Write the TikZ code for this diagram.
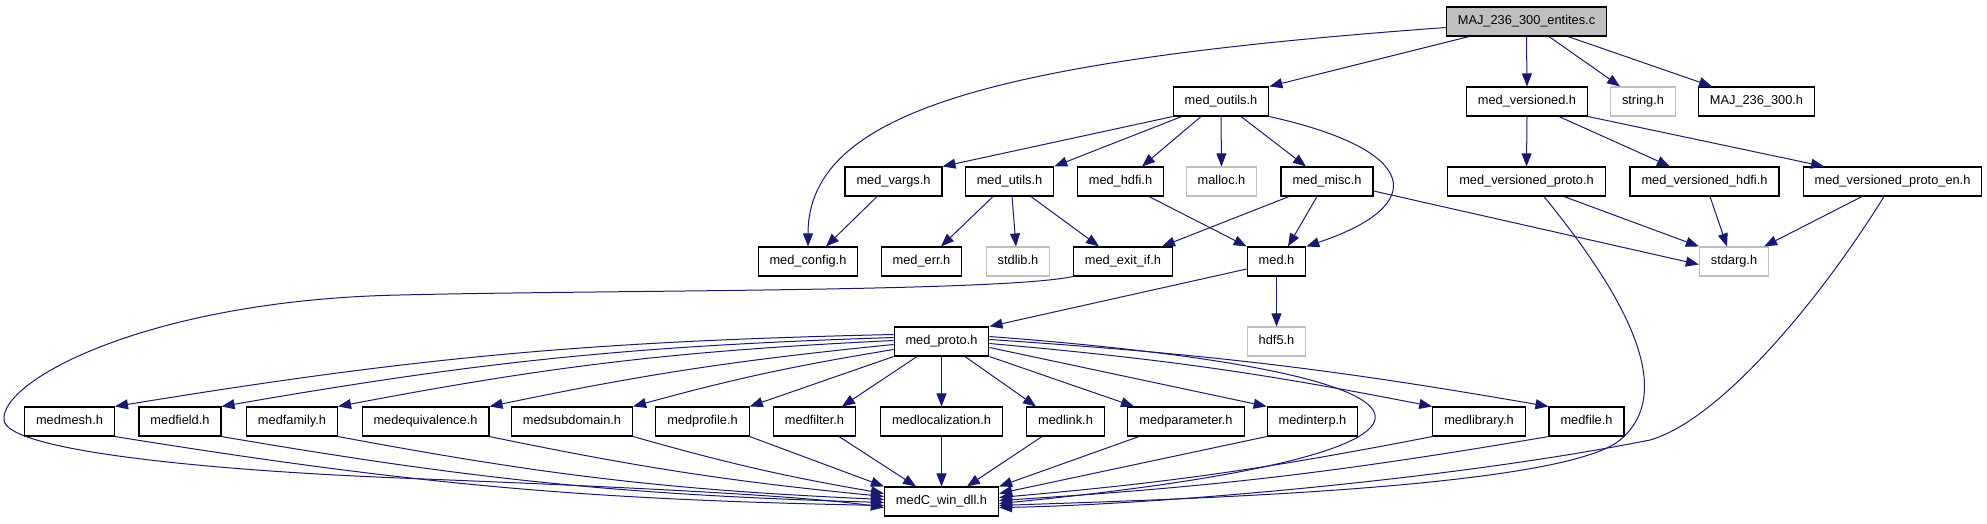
\documentclass[tikz,border=0pt]{standalone}
\usepackage{fontspec}
\setmainfont{Liberation Sans}
\usetikzlibrary{arrows.meta}
\definecolor{edgeblue}{HTML}{191970}
\definecolor{sysgray}{HTML}{BFBFBF}

\begin{document}
\begin{tikzpicture}[
    x=1pt,y=-1pt,
    every node/.style={font=\fontsize{12.8}{15}\selectfont,inner xsep=11.5pt,inner ysep=0pt,
        minimum height=29pt,text height=9.4pt,text depth=2.6pt},
    hbox/.style={draw=black,line width=1.1pt},
    sysbox/.style={draw=sysgray,line width=1.1pt},
    srcbox/.style={draw=black,fill=sysgray,line width=1.1pt},
    arr/.style={-{Triangle[length=13pt,width=10pt]},edgeblue,line width=1pt}
]
\useasboundingbox (0,0) rectangle (1987,523);

% Row 0 and 1: the source file and what it includes
\node[srcbox] (majc) at (1526.5,21.5) {MAJ\_236\_300\_entites.c};
\node[hbox]   (outils)    at (1221,101.5)   {med\_outils.h};
\node[hbox]   (versioned) at (1527,101.5)   {med\_versioned.h};
\node[sysbox] (string)    at (1643,101.5)   {string.h};
\node[hbox]   (majh)      at (1756.5,101.5) {MAJ\_236\_300.h};

% Row 2
\node[hbox]   (vargs)    at (893.5,181.5)  {med\_vargs.h};
\node[hbox]   (utils)    at (1009.5,181.5) {med\_utils.h};
\node[hbox]   (hdfi)     at (1120.5,181.5) {med\_hdfi.h};
\node[sysbox] (malloc)   at (1221.5,181.5) {malloc.h};
\node[hbox]   (misc)     at (1327,181.5)   {med\_misc.h};
\node[hbox]   (vproto)   at (1526.5,181.5) {med\_versioned\_proto.h};
\node[hbox]   (vhdfi)    at (1704.5,181.5) {med\_versioned\_hdfi.h};
\node[hbox]   (vprotoen) at (1892.5,181.5) {med\_versioned\_proto\_en.h};

% Row 3
\node[hbox]   (config) at (808,261.5)    {med\_config.h};
\node[hbox]   (err)    at (921.5,261.5)  {med\_err.h};
\node[sysbox] (stdlib) at (1018,261.5)   {stdlib.h};
\node[hbox]   (exitif) at (1123,261.5)   {med\_exit\_if.h};
\node[hbox]   (med)    at (1276.5,261.5) {med.h};
\node[sysbox] (stdarg) at (1734,261.5)   {stdarg.h};

% Row 4
\node[hbox]   (proto) at (941.5,341.5)  {med\_proto.h};
\node[sysbox] (hdf5)  at (1276.5,341.5) {hdf5.h};

% Row 5: the API headers
\node[hbox] (mesh)         at (69.5,421.5)  {medmesh.h};
\node[hbox] (field)        at (180,421.5)   {medfield.h};
\node[hbox] (family)       at (292,421.5)   {medfamily.h};
\node[hbox] (equivalence)  at (425.5,421.5) {medequivalence.h};
\node[hbox] (subdomain)    at (572,421.5)   {medsubdomain.h};
\node[hbox] (profile)      at (702.5,421.5) {medprofile.h};
\node[hbox] (filter)       at (814.5,421.5) {medfilter.h};
\node[hbox] (localization) at (941.5,421.5) {medlocalization.h};
\node[hbox] (link)         at (1065.5,421.5) {medlink.h};
\node[hbox] (parameter)    at (1186,421.5)  {medparameter.h};
\node[hbox] (interp)       at (1312.5,421.5) {medinterp.h};
\node[hbox] (library)      at (1479,421.5)  {medlibrary.h};
\node[hbox] (file)         at (1586.5,421.5) {medfile.h};

% Row 6
\node[hbox] (winc) at (941.5,501.5) {medC\_win\_dll.h};

% includes of the source file
\draw[arr] ([xshift=-57.5pt]majc.south) -- (outils.north east);
\draw[arr] ([yshift=-6pt]majc.west) .. controls (1000,60) and (808,110) .. (config.north);
\draw[arr] (majc.south) -- (versioned.north);
\draw[arr] ([xshift=22.5pt]majc.south) -- ([xshift=-23pt]string.north);
\draw[arr] ([xshift=41.5pt]majc.south) -- ([xshift=-44.5pt]majh.north);

% med_outils.h
\draw[arr] (outils.south west) -- (vargs.north east);
\draw[arr] ([xshift=9pt]outils.south west) -- (utils.north east);
\draw[arr] ([xshift=-20pt]outils.south) -- ([xshift=21.5pt]hdfi.north);
\draw[arr] (outils.south) -- (malloc.north);
\draw[arr] ([xshift=20pt]outils.south) -- ([xshift=-21pt]misc.north);
\draw[arr] (outils.south east) .. controls (1420,150) and (1430,205) .. (med.north east);

% row 2 to row 3
\draw[arr] ([xshift=-16.5pt]vargs.south) -- ([xshift=18pt]config.north);
\draw[arr] ([xshift=-16.5pt]utils.south) -- ([xshift=19.5pt]err.north);
\draw[arr] ([xshift=2.5pt]utils.south) -- ([xshift=-2pt]stdlib.north);
\draw[arr] ([xshift=21.5pt]utils.south) -- ([xshift=-24pt]exitif.north);
\draw[arr] ([xshift=28.5pt]hdfi.south) -- (med.north west);
\draw[arr] ([xshift=-38pt]misc.south) -- ([xshift=39pt]exitif.north);
\draw[arr] ([xshift=-10pt]misc.south) -- ([xshift=11.5pt]med.north);
\draw[arr] ([yshift=-9.5pt]misc.east) -- ([yshift=-3pt]stdarg.west);

% med_versioned.h
\draw[arr] (versioned.south) -- (vproto.north);
\draw[arr] ([xshift=32pt]versioned.south) -- ([xshift=-34.5pt]vhdfi.north);
\draw[arr] (versioned.south east) -- ([xshift=-68.5pt]vprotoen.north);
\draw[arr] ([xshift=37.5pt]vproto.south) -- (stdarg.north west);
\draw[arr] ([xshift=5.5pt]vhdfi.south) -- ([xshift=-7pt]stdarg.north);
\draw[arr] ([xshift=-30.5pt]vprotoen.south) -- ([xshift=-5pt]stdarg.north east);

% med.h
\draw[arr] ([yshift=-7.5pt]med.west) -- (proto.north east);
\draw[arr] (med.south) -- (hdf5.north);

% med_proto.h to the API headers
\draw[arr] ([yshift=7pt]proto.west) to[bend right=4] (mesh.north east);
\draw[arr] ([yshift=4pt]proto.west) to[bend right=4] (field.north east);
\draw[arr] ([yshift=1pt]proto.west) to[bend right=4] (family.north east);
\draw[arr] ([yshift=-3pt]proto.west) to[bend right=3] (equivalence.north east);
\draw[arr] ([yshift=-8pt]proto.west) to[bend right=3] (subdomain.north east);
\draw[arr] (proto.south west) -- (profile.north east);
\draw[arr] ([xshift=-24.5pt]proto.south) -- ([xshift=27.5pt]filter.north);
\draw[arr] (proto.south) -- (localization.north);
\draw[arr] ([xshift=23.5pt]proto.south) -- ([xshift=-29.5pt]link.north);
\draw[arr] (proto.south east) -- ([xshift=-52pt]parameter.north);
\draw[arr] ([yshift=-6pt]proto.east) -- (interp.north west);
\draw[arr] ([yshift=-2pt]proto.east) to[bend left=3] (library.north west);
\draw[arr] ([yshift=2pt]proto.east) to[bend left=3] (file.north west);
\draw[arr] ([yshift=5pt]proto.east) .. controls (1500,375) and (1500,455) .. ([yshift=-2pt]winc.east);

% everything ends in medC_win_dll.h
\draw[arr] (mesh.south east) to[bend right=4] ([yshift=-4pt]winc.west);
\draw[arr] (field.south east) to[bend right=4] ([yshift=-1pt]winc.west);
\draw[arr] (family.south east) to[bend right=4] ([yshift=2pt]winc.west);
\draw[arr] (equivalence.south east) to[bend right=3] ([yshift=5pt]winc.west);
\draw[arr] (subdomain.south east) to[bend right=3] ([yshift=8pt]winc.west);
\draw[arr] (profile.south east) -- (winc.north west);
\draw[arr] ([xshift=24.5pt]filter.south) -- ([xshift=-25.5pt]winc.north);
\draw[arr] (localization.south) -- (winc.north);
\draw[arr] ([xshift=-23.5pt]link.south) -- ([xshift=25.5pt]winc.north);
\draw[arr] ([xshift=-47pt]parameter.south) -- (winc.north east);
\draw[arr] (interp.south west) -- ([yshift=8pt]winc.east);
\draw[arr] (library.south west) to[bend left=3] ([yshift=4pt]winc.east);
\draw[arr] (file.south west) to[bend left=3] ([yshift=1pt]winc.east);
\draw[arr] ([xshift=17.5pt]vproto.south) .. controls (1620,290) and (1680,390) .. (1620,440)
    .. controls (1560,490) and (1150,500) .. ([yshift=-4pt]winc.east);
\draw[arr] ([xshift=-8.5pt]vprotoen.south) .. controls (1820,300) and (1720,420) .. (1650,440)
    .. controls (1450,480) and (1150,505) .. ([yshift=-6pt]winc.east);
\draw[arr] (exitif.south west) .. controls (1000,292) and (600,290) .. (400,295)
    .. controls (150,300) and (0,380) .. (4,420)
    .. controls (6,450) and (200,470) .. (400,478)
    .. controls (600,486) and (800,495) .. ([yshift=-6pt]winc.west);
\end{tikzpicture}
\end{document}
